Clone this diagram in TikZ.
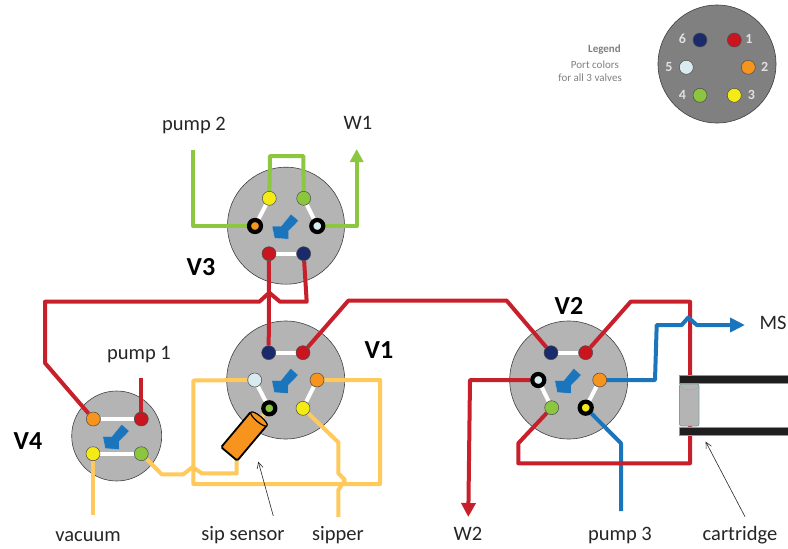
\documentclass[tikz,border=0pt]{standalone}
\usepackage{fontspec}
\setmainfont{Carlito}
\usetikzlibrary{arrows.meta,shapes.geometric,calc}
\definecolor{cnavy}{HTML}{1B2A6B}
\definecolor{cred}{HTML}{C9151F}
\definecolor{corange}{HTML}{F7941E}
\definecolor{cyel}{HTML}{F4EA14}
\definecolor{cgreen}{HTML}{8CC63F}
\definecolor{clb}{HTML}{D9EAF0}
\definecolor{wred}{HTML}{C8202A}
\definecolor{wblue}{HTML}{1B75BC}
\definecolor{wgreen}{HTML}{8DC63F}
\definecolor{wyel}{HTML}{FFC95C}
\definecolor{disc}{HTML}{B4B4B4}
\definecolor{teal}{HTML}{7F9E9E}
\pgfdeclarelayer{discs}
\pgfdeclarelayer{wires}
\pgfsetlayers{discs,wires,main}
\tikzset{
  valve/.style={circle,draw=black!75,line width=.6pt,fill=disc,inner sep=0pt,minimum size=#1},
  port/.style={circle,draw=black!70,line width=.5pt,fill=#1,inner sep=0pt,minimum size=14pt},
  ring/.style={circle,draw=black,line width=4.2pt,fill=#1,inner sep=0pt,minimum size=12pt},
  link/.style={white,line width=4pt},
  wire/.style={line width=4pt,line join=round,line cap=butt,color=#1},
  lbl/.style={font=\fontsize{20.5}{24}\selectfont,text=black!85,inner sep=0pt},
  vname/.style={font=\fontsize{26}{30}\selectfont\bfseries,inner sep=0pt},
  legnum/.style={font=\fontsize{14}{16}\selectfont\bfseries,text=black!12,inner sep=0pt},
  legtxt/.style={font=\fontsize{11}{13}\selectfont,text=black!50,inner sep=0pt,anchor=east},
  barblack/.style={fill=black!88,draw=teal,line width=.7pt},
  thinarrow/.style={-{Straight Barb[length=6pt,width=6pt]},line width=.6pt,black!85},
  bluearrow/.pic={
    \fill[wblue,draw=black!25,line width=.3pt]
      (5,-11.7)--(12.7,-5)--(2.5,5.5)--(2.5,13.5)--(-11.5,12.5)--(-14,0.5)--(-5,0.5)--cycle;
  }
}
\begin{document}
\begin{tikzpicture}[x=1pt,y=-1pt]
\path[use as bounding box] (0,0) rectangle (788,549);
% valve bodies
\begin{pgfonlayer}{discs}
\node[valve=118pt] (V1) at (285.7,380) {};
\node[valve=118pt] (V2) at (568.7,380) {};
\node[valve=117pt] (V3) at (286,225.7) {};
\node[valve=90pt]  (V4) at (116.7,436) {};
\node[valve=118pt,fill=black!50] (LG) at (717,64) {};
\end{pgfonlayer}
% legend
\node[port=cnavy] (L6) at (700,40) {};
\node[port=cred] (L1) at (734.3,40) {};
\node[port=corange] (L2) at (748.3,67.3) {};
\node[port=clb] (L5) at (686.3,67.3) {};
\node[port=cgreen] (L4) at (700,95.3) {};
\node[port=cyel] (L3) at (734.3,95.3) {};
\node[legnum] (n6) at (682.3,39) {6};
\node[legnum] (n1) at (749,39) {1};
\node[legnum] (n5) at (669,67.3) {5};
\node[legnum] (n2) at (764.7,67.3) {2};
\node[legnum] (n4) at (682.3,95.3) {4};
\node[legnum] (n3) at (751.3,95.3) {3};
\node[legtxt,font=\fontsize{11}{13}\selectfont\bfseries] (lg1) at (621,50) {Legend};
\node[legtxt] (lg2) at (619,64.5) {Port colors};
\node[legtxt] (lg3) at (622,78) {for all 3 valves};
% V1 ports
\node[port=cnavy] (a6) at (268.7,352.7) {};
\node[port=cred] (a1) at (303,352.7) {};
\node[port=clb] (a5) at (254.7,380) {};
\node[port=corange] (a2) at (317,380) {};
\node[ring=cgreen] (a4) at (269.3,408.3) {};
\node[port=cyel] (a3) at (303,408.3) {};
% V2 ports
\node[port=cnavy] (b6) at (551,352.7) {};
\node[port=cred] (b1) at (585.7,352.7) {};
\node[ring=clb] (b5) at (538.3,380) {};
\node[port=corange] (b2) at (599.7,380) {};
\node[port=cgreen] (b4) at (551.7,407.7) {};
\node[ring=cyel] (b3) at (585.7,407.7) {};
% V3 ports
\node[port=cyel] (c3) at (269.3,198.3) {};
\node[port=cgreen] (c4) at (303.7,198.3) {};
\node[ring=corange] (c2) at (255,226) {};
\node[ring=clb] (c5) at (317.3,226) {};
\node[port=cred] (c1) at (269,253.7) {};
\node[port=cnavy] (c6) at (303.7,253.7) {};
% V4 ports
\node[port=corange] (d2) at (93.3,419) {};
\node[port=cred] (d1) at (141.3,419) {};
\node[port=cyel] (d3) at (93,453.7) {};
\node[port=cgreen] (d4) at (141.3,453.7) {};
% blue arrows
\path (V1) pic {bluearrow};
\path (V2) pic {bluearrow};
\path (V3) pic {bluearrow};
\path (V4) pic {bluearrow};
% free ends
\coordinate (fp1) at (141.3,378);
\coordinate (fp2) at (193.3,150);
\coordinate (fw1) at (356.7,149);
\coordinate (fw2) at (468.3,517);
\coordinate (fms) at (745,325);
\coordinate (fp3) at (621,511);
\coordinate (fvac) at (93,515);
\coordinate (fsip) at (338.3,517);
\begin{pgfonlayer}{wires}
% white links
\draw[link] (a6)--(a1); \draw[link] (a5)--(a4); \draw[link] (a2)--(a3);
\draw[link] (b6)--(b1); \draw[link] (b5)--(b4); \draw[link] (b2)--(b3);
\draw[link] (c1)--(c6); \draw[link] (c2)--(c3); \draw[link] (c4)--(c5);
\draw[link] (d2)--(d1); \draw[link] (d3)--(d4);
% yellow
\draw[wire=wyel] (a5) -- (193.3,380.5) -- (193.3,484) -- (380,484) -- (380,380) -- (a2);
\draw[wire=wyel] (a3) -- (338.3,442.3) -- (338.3,473.3) -- (345,480) -- (338.3,490) -- (fsip);
\draw[wire=wyel] (d4) -- (161.7,474.3) -- (183.3,474.3) -- (192.7,467) -- (201.7,473.3) -- (236.7,473.3) -- (236.7,445);
\draw[wire=wyel] (d3) -- (fvac);
\draw[wire=wyel] (a4) -- (255,425);
% green
\draw[wire=wgreen] (fp2) -- (193.3,226) -- (c2);
\draw[wire=wgreen] (c3) -- (270,156) -- (303.3,156) -- (c4);
\draw[wire=wgreen,-{Triangle[length=13pt,width=13pt]}] (c5) -- (356.7,226) -- (fw1);
% blue, under the red
\draw[wire=wblue] (b3) -- (621,443.3) -- (fp3);
% red
\draw[wire=wred] (c1) -- (a6);
\draw[wire=wred] (c6) -- (306.7,301.7) -- (280,301.7) -- (269.3,292.7) -- (259.3,301.7) -- (45,301.7) -- (45,363) -- (d2);
\draw[wire=wred] (a1) -- (348.3,300.7) -- (506.7,300.7) -- (b6);
\draw[wire=wred] (b1) -- (630.7,301.7) -- (690,301.7) -- (690,463.3) -- (518.3,463.3) -- (518.3,443.3) -- (b4);
\draw[wire=wred,-{Triangle[length=14pt,width=14pt]}] (b5) -- (470,380) -- (fw2);
\draw[wire=wred] (d1) -- (fp1);
% blue, over the red
\draw[wire=wblue,-{Triangle[length=15pt,width=14pt]}] (b2) -- (655,380) -- (656.7,325) -- (681.7,325) -- (688.3,317.5) -- (696.7,325) -- (fms);
\end{pgfonlayer}
% cartridge
\fill[disc,draw=teal,line width=.8pt,rounded corners=2pt] (679.5,384) rectangle (699,426);
\draw[black!35,line width=.5pt] (680,387) .. controls (685,391) and (694,391) .. (699,387);
\filldraw[barblack] (679.3,375.3) rectangle (790,383);
\filldraw[barblack] (679.3,427.3) rectangle (790,435.5);
% sip sensor
\node[rectangle,rotate=50,draw=black,line width=1.8pt,fill=corange,rounded corners=1.5pt,minimum width=46pt,minimum height=21pt,inner sep=0pt] (SS) at (244,436.3) {};
\node[ellipse,rotate=50,draw=black,line width=1.2pt,fill=corange,minimum width=6pt,minimum height=21pt,inner sep=0pt] (SSc) at (259,419) {};
% thin arrows
\coordinate (sa) at (273.3,516);
\coordinate (sb) at (258.3,461.7);
\coordinate (ca) at (745,516.7);
\coordinate (cb) at (705.7,441.7);
\draw[thinarrow] (sa) -- (sb);
\draw[thinarrow] (ca) -- (cb);
% labels
\node[lbl] (t1) at (194,125) {pump 2};
\node[lbl] (t2) at (358,123) {W1};
\node[vname] (t3) at (201,267) {V3};
\node[vname] (t4) at (379,350) {V1};
\node[vname] (t5) at (28,441) {V4};
\node[vname] (t6) at (569,306) {V2};
\node[lbl] (t7) at (139,355) {pump 1};
\node[lbl] (t8) at (88,537) {vacuum};
\node[lbl] (t9) at (243,535) {sip sensor};
\node[lbl] (t10) at (338,535) {sipper};
\node[lbl] (t11) at (468,534) {W2};
\node[lbl] (t12) at (620,535) {pump 3};
\node[lbl] (t13) at (740,535) {cartridge};
\node[lbl] (t14) at (773,323) {MS};
\end{tikzpicture}
\end{document}
